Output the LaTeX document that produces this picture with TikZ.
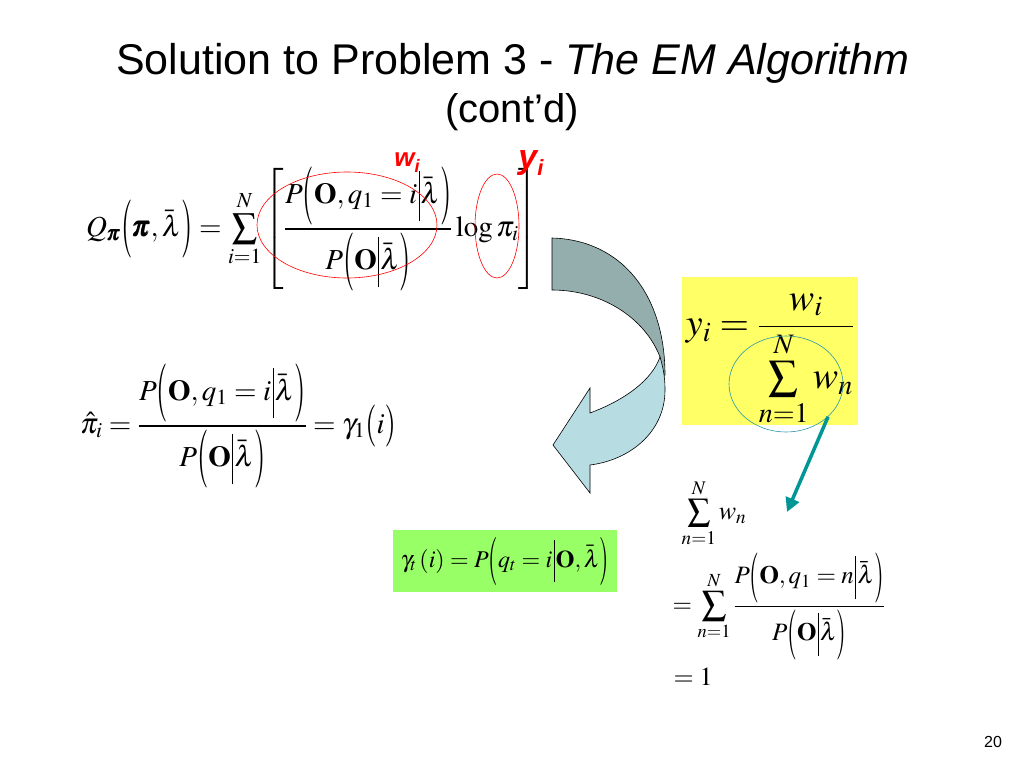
\documentclass[tikz,border=0pt]{standalone}
\usepackage{amsmath}
\usepackage{mathptmx}
\usepackage{graphicx}
\usepackage[no-math]{fontspec}
\newfontfamily\arialfont{Liberation Sans}
\usetikzlibrary{arrows.meta,shapes.geometric}

\definecolor{backband}{RGB}{148,174,174}
\definecolor{frontband}{RGB}{183,221,226}
\definecolor{noteyellow}{RGB}{255,255,102}
\definecolor{notegreen}{RGB}{153,255,102}
\definecolor{ringblue}{RGB}{40,150,170}
\definecolor{arrowteal}{RGB}{0,150,150}

% tall narrow parentheses and bar, as drawn by the equation editor
\newcommand{\tlp}{\mathopen{\vcenter{\hbox{\scalebox{1}[2.0]{$($}}}}}
\newcommand{\trp}{\mathclose{\vcenter{\hbox{\scalebox{1}[2.0]{$)$}}}}}
\newcommand{\mlp}{\mathopen{\vcenter{\hbox{\scalebox{1}[1.45]{$($}}}}}
\newcommand{\mrp}{\mathclose{\vcenter{\hbox{\scalebox{1}[1.45]{$)$}}}}}
\newcommand{\tbar}{\mathord{\kern1.5pt\vcenter{\hbox{\rule{0.6pt}{1.75em}}}\kern1.5pt}}
\newcommand{\tsum}[1][1.2]{\mathop{\vcenter{\hbox{\scalebox{#1}{$\textstyle\sum$}}}}\limits}

\tikzset{
  titletext/.style={font=\arialfont\fontsize{#1}{#1}\selectfont, inner sep=0pt},
  redlabel/.style={text=red, font=\arialfont\bfseries\itshape\fontsize{#1}{#1}\selectfont, inner sep=0pt},
  eqn/.style={inner sep=0pt, font=\fontsize{#1}{#1}\selectfont},
  redring/.style={draw=red, ellipse, inner sep=0pt, line width=0.6pt},
  band/.style={draw=black, line width=0.6pt},
}

\begin{document}
\begin{tikzpicture}[x=1pt,y=1pt,yscale=-1]
\useasboundingbox (0,0) rectangle (1024,768);

% Text Node
\node[titletext=43] (title) at (513,63) {Solution to Problem 3 - \textit{The EM Algorithm}};
% Text Node
\node[titletext=40] (subtitle) at (512,112) {(cont’d)};

% Text Node
\node[eqn=29] (qeq) at (312,229) {$\displaystyle Q_{\pmb{\pi}}\tlp\pmb{\pi},\bar{\lambda}\trp=\tsum[1.23]_{i=1}^{N}\left[\frac{P\tlp\mathbf{O},q_1=i\tbar\bar{\lambda}\trp}{P\tlp\mathbf{O}\tbar\bar{\lambda}\trp}\log\pi_i\right]$};
%Shape: Ellipse
\node[redring, minimum width=180pt, minimum height=106pt] (wring) at (347,225) {};
%Shape: Ellipse
\node[redring, minimum width=44pt, minimum height=104pt] (yring) at (497,226) {};
% Text Node
\node[redlabel=26] (wlabel) at (407,163) {w\raisebox{-6pt}{\fontsize{18}{20}\selectfont i}};
\node[redlabel=34] (ylabel) at (531,163) {y\raisebox{-7pt}{\fontsize{22}{24}\selectfont i}};

%Shape: Curved Arrow (back band, then front band with head)
\draw[band, fill=backband] (552,238) .. controls (622,240) and (665,295) .. (665,375) -- (663,376) -- (660,357) .. controls (645,318) and (602,290) .. (552,290) -- cycle;
\draw[band, fill=frontband] (590,413) .. controls (625,400) and (652,380) .. (660,357) .. controls (664,370) and (665,380) .. (665,390) .. controls (665,432) and (630,460) .. (590,465) -- (590,493) -- (553,445) -- (590,388) -- cycle;

% Text Node
\node[eqn=29] (pihat) at (238,426) {$\displaystyle\hat{\pi}_i=\frac{P\tlp\mathbf{O},q_1=i\tbar\bar{\lambda}\trp}{P\tlp\mathbf{O}\tbar\bar{\lambda}\trp}=\gamma_1\mlp i\mrp$};

%Shape: Rectangle
\fill[notegreen] (393,530) rectangle (617,592);
% Text Node
\node[eqn=24] (gammaeq) at (505,561) {$\gamma_t\,(i)=P\tlp q_t=i\tbar\mathbf{O},\bar{\lambda}\trp$};

%Shape: Rectangle
\fill[noteyellow] (682,277) rectangle (858,425);
% Text Node
\node[eqn=38] (yeq) at (770,360) {$\displaystyle y_i=\frac{w_i}{\tsum[1.1]_{n=1}^{N}w_n}$};
%Shape: Ellipse
\node[draw=ringblue, ellipse, inner sep=0pt, line width=0.6pt, minimum width=114pt, minimum height=96pt] (sumring) at (786,384) {};

% Text Node
\node[eqn=26] (sumw) at (714,513) {$\tsum[1.25]_{n=1}^{N}w_n$};
% Text Node
\node[eqn=25] (sumeq) at (779,606) {$\displaystyle=\tsum[1.4]_{n=1}^{N}\frac{P\tlp\mathbf{O},q_1=n\tbar\bar{\lambda}\trp}{P\tlp\mathbf{O}\tbar\bar{\lambda}\trp}$};
% Text Node
\node[eqn=26] (one) at (693,677) {$=1$};

%Straight Lines
\coordinate (sumtip) at (787,512);
\draw[arrowteal, line width=3.5pt, -{Triangle[length=14pt,width=14pt]}] (sumring.-38) -- (sumtip);

% Text Node
\node[font=\arialfont\fontsize{16}{18}\selectfont, inner sep=0pt] (pagenum) at (993,742) {20};

\end{tikzpicture}
\end{document}
